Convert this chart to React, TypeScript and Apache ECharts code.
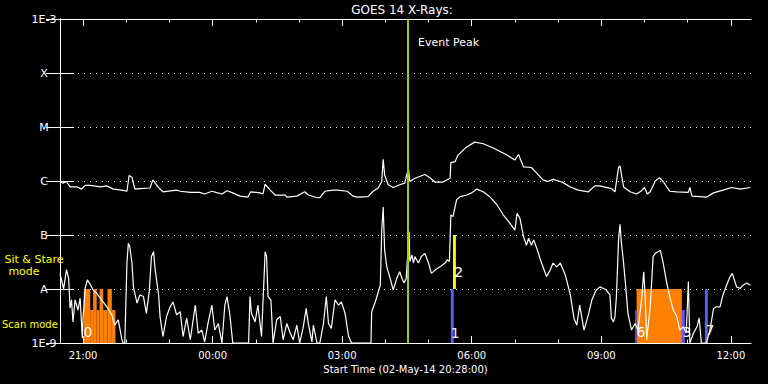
import React, { useEffect, useRef } from "react";
import * as echarts from "echarts";

// Time in minutes after start (02-May-14 20:28:00); flux given as log10(W/m^2)
const longTime = [0,4,9,14,24,30,35,42,56,65,74,86,93,96,100,104,111,125,129,136,143,162,167,181,194,201,211,219,225,232,240,250,261,265,278,282,285,292,299,313,315,329,340,345,357,361,368,379,385,399,407,413,428,435,442,447,449,451,456,463,472,479,484,486,493,507,514,521,532,542,543,549,553,563,576,588,602,621,632,637,644,655,662,671,678,685,695,699,709,720,734,743,750,766,771,776,778,783,792,801,808,812,816,820,827,833,838,847,857,873,875,878,889,898,908,921,933,945,959];
const longLog = [-6.01,-6.04,-6.01,-6.11,-6.11,-6.15,-6.08,-6.08,-6.11,-6.09,-6.15,-6.17,-6.19,-5.90,-5.93,-6.15,-6.14,-6.13,-5.98,-6.11,-6.20,-6.17,-6.19,-6.21,-6.21,-6.24,-6.19,-6.22,-6.24,-6.18,-6.22,-6.28,-6.30,-6.20,-6.22,-6.24,-6.06,-6.17,-6.26,-6.26,-6.30,-6.28,-6.20,-6.26,-6.31,-6.31,-6.19,-6.17,-6.17,-6.19,-6.28,-6.30,-6.29,-6.19,-6.13,-6.01,-5.60,-5.89,-6.07,-6.12,-6.07,-6.04,-5.76,-6.01,-5.95,-5.88,-5.94,-6.02,-6.02,-5.95,-5.66,-5.64,-5.52,-5.39,-5.28,-5.31,-5.39,-5.52,-5.61,-5.51,-5.74,-5.75,-5.85,-5.98,-6.01,-5.97,-6.01,-6.03,-6.11,-6.17,-6.20,-6.09,-6.09,-6.14,-6.20,-5.75,-5.72,-6.11,-6.20,-6.24,-6.18,-6.12,-6.24,-6.20,-6.00,-5.94,-6.01,-6.19,-6.20,-6.21,-6.12,-6.28,-6.29,-6.30,-6.22,-6.17,-6.12,-6.15,-6.12];

const shortTime = [0,5,9,12,14,16,18,21,25,28,31,32,35,38,41,46,51,56,60,65,72,76,81,86,88,90,93,95,97,100,102,107,111,116,120,124,127,130,132,137,139,143,148,153,157,162,167,171,176,181,188,192,197,201,206,211,215,220,225,229,232,236,240,262,264,266,271,275,280,285,287,289,293,296,301,306,310,315,320,324,329,333,338,342,345,350,352,357,361,366,370,373,377,382,387,391,396,401,405,432,433,438,445,447,449,451,454,458,463,468,472,475,478,481,485,486,489,491,493,498,502,507,512,516,521,528,535,538,541,543,546,551,556,565,572,579,588,597,607,616,625,632,635,639,644,648,651,655,658,662,669,676,681,685,690,695,702,709,714,718,722,728,734,739,745,750,755,759,764,766,769,771,773,776,778,780,783,786,789,794,799,803,808,811,813,815,820,824,827,831,834,838,843,847,852,857,861,866,870,873,875,880,885,888,891,898,903,908,912,917,921,926,931,934,940,945,949,954,959];
const shortLog = [-7.71,-8.00,-7.64,-7.80,-8.35,-8.20,-8.61,-8.20,-8.39,-8.17,-8.91,-8.54,-7.99,-7.83,-7.89,-8.02,-8.08,-8.17,-8.24,-8.33,-8.48,-8.67,-8.57,-8.94,-9,-9,-7.52,-7.15,-7.22,-7.52,-7.96,-8.26,-8.11,-8.14,-8.45,-8.05,-7.40,-7.31,-7.62,-8.11,-8.51,-8.88,-8.51,-8.33,-8.24,-8.48,-8.42,-8.88,-8.54,-8.94,-8.30,-8.82,-8.76,-8.98,-8.61,-8.30,-8.76,-8.64,-9,-8.30,-8.14,-8.48,-9,-9,-8.14,-8.45,-8.61,-8.30,-8.88,-7.31,-7.40,-8.14,-8.20,-9,-8.57,-8.51,-8.94,-8.64,-8.82,-8.94,-8.67,-9,-8.70,-8.36,-8.64,-8.98,-8.67,-9,-9,-8.64,-8.14,-8.64,-8.73,-8.20,-8.30,-8.24,-8.45,-8.88,-9,-9,-8.42,-8.24,-7.93,-6.91,-6.48,-7.28,-7.59,-7.77,-8.02,-7.80,-7.68,-7.80,-7.89,-7.80,-6.94,-7.49,-7.37,-7.52,-7.40,-7.52,-7.40,-7.34,-7.52,-7.71,-7.65,-7.59,-7.52,-7.46,-7.49,-6.63,-6.66,-6.35,-6.29,-6.26,-6.22,-6.15,-6.20,-6.29,-6.44,-6.63,-6.78,-6.91,-6.60,-6.69,-7.03,-7.19,-7.06,-7.19,-7.09,-7.23,-7.52,-7.77,-7.65,-7.52,-7.59,-7.52,-7.74,-8.11,-8.54,-8.67,-8.30,-8.76,-8.48,-8.20,-8.02,-7.96,-7.99,-8.02,-8.11,-8.54,-8.61,-8.51,-8.14,-7.09,-6.80,-7.15,-7.52,-7.96,-8.45,-8.76,-8.64,-8.76,-8.20,-7.68,-8.14,-8.94,-8.33,-7.40,-7.34,-7.31,-7.28,-7.52,-7.89,-8.14,-8.39,-8.51,-8.76,-8.70,-8.82,-7.86,-9,-8.82,-8.70,-8.54,-9,-9,-8.76,-8.36,-8.33,-8.33,-8.11,-7.93,-7.77,-7.71,-7.96,-7.99,-7.93,-7.89,-7.93];

// Mode bars: [start min, end min, low log10, high log10, kind (0 orange, 1 blue, 2 yellow)]
const modeBars = [
  [33, 42, -9, -8, 0], [42, 46, -9, -8.39, 0], [46, 51, -9, -8, 0], [51, 55, -9, -8.39, 0],
  [55, 60, -9, -8, 0], [60, 66, -9, -8.39, 0], [66, 72, -9, -8, 0], [72, 77, -9, -8.39, 0],
  [801, 864, -9, -8, 0],
  [543, 547, -9, -8, 1], [799, 801, -9, -8.39, 1], [864, 868, -9, -8.39, 1], [896, 900, -9, -8, 1],
  [546, 550, -8, -7, 2],
];
const modeLabelTime = [39, 549, 554, 807, 871, 903];
const modeLabelLog = [-8.8, -8.81, -7.69, -8.8, -8.8, -8.76];
const modeLabelText = ["0", "1", "2", "6", "3", "7"];

const eventPeakTime = 483;
const majorTicks = [32, 212, 392, 572, 752, 932];
const hourTicks = [32, 92, 152, 212, 272, 332, 392, 452, 512, 572, 632, 692, 752, 812, 872, 932];
const yTickLabels = ["1E-9", "A", "B", "C", "M", "X", "1E-3"];
const startMinutes = 20 * 60 + 28;

const FONT = "DejaVu Sans";
const modeColors = ["#ff8000", "#5b5bff", "#ffff00"];

export default function App() {
  const ref = useRef<HTMLDivElement>(null);
  useEffect(() => {
    if (!ref.current) return;
    const chart = echarts.init(ref.current, null, { renderer: "svg" });
    const fmtTime = (v: number) => {
      const t = Math.round(startMinutes + v);
      const h = Math.floor(t / 60) % 24;
      const m = t % 60;
      return String(h).padStart(2, "0") + ":" + String(m).padStart(2, "0");
    };
    const xBase = { type: "value", min: 0, max: 960, splitLine: { show: false } };
    const white = "#ffffff";
    const option: any = {
      animation: false,
      backgroundColor: "#000000",
      textStyle: { fontFamily: FONT },
      grid: { left: 60, right: 17, top: 19, bottom: 41, containLabel: false },
      xAxis: [
        {
          ...xBase, position: "bottom", offset: 0,
          axisLine: { show: true, lineStyle: { color: white, width: 1 } },
          axisTick: { show: true, inside: true, length: 7, lineStyle: { color: white }, customValues: majorTicks },
          axisLabel: { show: true, color: white, fontSize: 10, fontFamily: FONT, margin: 7, customValues: majorTicks, formatter: (v: number) => fmtTime(v) },
          name: "Start Time (02-May-14 20:28:00)", nameLocation: "middle", nameGap: 19,
          nameTextStyle: { color: white, fontSize: 10, fontFamily: FONT },
        },
        {
          ...xBase, position: "bottom", offset: 0,
          axisLine: { show: false },
          axisTick: { show: true, inside: true, length: 3.5, lineStyle: { color: white }, customValues: hourTicks },
          axisLabel: { show: false, customValues: hourTicks },
        },
        {
          ...xBase, position: "top", offset: 0,
          axisLine: { show: true, lineStyle: { color: white, width: 1 } },
          axisTick: { show: true, inside: true, length: 7, lineStyle: { color: white }, customValues: majorTicks },
          axisLabel: { show: false, customValues: majorTicks },
        },
        {
          ...xBase, position: "top", offset: 0,
          axisLine: { show: false },
          axisTick: { show: true, inside: true, length: 3.5, lineStyle: { color: white }, customValues: hourTicks },
          axisLabel: { show: false, customValues: hourTicks },
        },
      ],
      yAxis: [
        {
          type: "log", logBase: 10, min: 1e-9, max: 1e-3, splitNumber: 6, position: "left",
          axisLine: { show: true, lineStyle: { color: white, width: 1 } },
          axisTick: { show: true, inside: true, length: 14, lineStyle: { color: white } },
          minorTick: { show: false },
          axisLabel: {
            color: white, fontSize: 11, fontFamily: FONT, align: "center", margin: 16,
            formatter: (v: number) => yTickLabels[Math.round(Math.log10(v)) + 9] ?? "",
          },
          splitLine: { show: true, lineStyle: { color: white, width: 1, type: [1, 5] } },
        },
        {
          type: "log", logBase: 10, min: 1e-9, max: 1e-3, splitNumber: 6, position: "right",
          axisLine: { show: true, lineStyle: { color: white, width: 1 } },
          axisTick: { show: true, inside: true, length: 14, lineStyle: { color: white } },
          axisLabel: { show: false },
          splitLine: { show: false },
        },
      ],
      series: [
        {
          type: "custom",
          xAxisIndex: 0, yAxisIndex: 0,
          encode: { x: [0, 1], y: [2, 3] },
          data: modeBars.map((r) => [r[0], r[1], Math.pow(10, r[2]), Math.pow(10, r[3]), r[4]]),
          renderItem: (params: any, api: any) => {
            const p0 = api.coord([api.value(0), api.value(3)]);
            const p1 = api.coord([api.value(1), api.value(2)]);
            return {
              type: "rect",
              shape: { x: p0[0], y: p0[1], width: p1[0] - p0[0], height: p1[1] - p0[1] },
              style: { fill: modeColors[api.value(4)] },
            };
          },
          z: 1,
          silent: true,
        },
        {
          type: "line",
          name: "0.5-4.0 A",
          xAxisIndex: 0, yAxisIndex: 0,
          data: shortTime.map((t, i) => [t, Math.pow(10, shortLog[i])]),
          showSymbol: false, symbol: "none",
          lineStyle: { color: white, width: 1.2 },
          z: 3, silent: true,
        },
        {
          type: "line",
          name: "1.0-8.0 A",
          xAxisIndex: 0, yAxisIndex: 0,
          data: longTime.map((t, i) => [t, Math.pow(10, longLog[i])]),
          showSymbol: false, symbol: "none",
          lineStyle: { color: white, width: 1.2 },
          z: 3, silent: true,
          markLine: {
            silent: true, symbol: "none", animation: false,
            label: { show: false },
            lineStyle: { color: "#9ccc00", width: 2, type: "solid" },
            data: [{ xAxis: eventPeakTime }],
          },
        },
        {
          type: "custom",
          xAxisIndex: 0, yAxisIndex: 0,
          encode: { x: 0, y: 1 },
          data: modeLabelTime.map((t, i) => [t, Math.pow(10, modeLabelLog[i])]),
          renderItem: (params: any, api: any) => {
            const p = api.coord([api.value(0), api.value(1)]);
            return {
              type: "text",
              x: p[0], y: p[1],
              style: {
                text: modeLabelText[params.dataIndex], fill: white, font: `14px ${FONT}`,
                align: "center", verticalAlign: "middle", textAlign: "center", textVerticalAlign: "middle",
              },
            };
          },
          z: 4, silent: true,
        },
      ],
      graphic: [
        { type: "text", x: 402, y: 10, style: { text: "GOES 14 X-Rays:", fill: white, font: `12px ${FONT}`, align: "center", verticalAlign: "middle", textAlign: "center", textVerticalAlign: "middle" } },
        { type: "text", x: 418, y: 42.5, style: { text: "Event Peak", fill: white, font: `11px ${FONT}`, align: "left", verticalAlign: "middle", textAlign: "left", textVerticalAlign: "middle" } },
        { type: "text", x: 34, y: 259, style: { text: "Sit & Stare", fill: "#ffff00", font: `11px ${FONT}`, align: "center", verticalAlign: "middle", textAlign: "center", textVerticalAlign: "middle" } },
        { type: "text", x: 24, y: 271, style: { text: "mode", fill: "#ffff00", font: `11px ${FONT}`, align: "center", verticalAlign: "middle", textAlign: "center", textVerticalAlign: "middle" } },
        { type: "text", x: 2, y: 324, style: { text: "Scan mode", fill: "#ffff00", font: `10px ${FONT}`, align: "left", verticalAlign: "middle", textAlign: "left", textVerticalAlign: "middle" } },
      ],
    };
    chart.setOption(option);
    return () => chart.dispose();
  }, []);
  return <div ref={ref} style={{ position: "fixed", left: 0, top: 0, width: 768, height: 384 }} />;
}
